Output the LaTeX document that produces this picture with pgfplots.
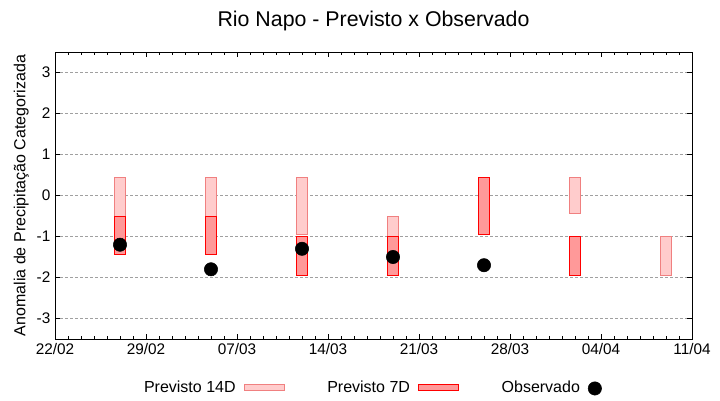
\documentclass[border=0pt]{standalone}
\usepackage{fontspec}
\setmainfont{Liberation Sans}
\usepackage{pgfplots}
\pgfplotsset{compat=1.18}

\definecolor{fill14}{RGB}{255,204,204}
\definecolor{edge14}{RGB}{240,128,128}
\definecolor{fill7}{RGB}{255,153,153}
\definecolor{edge7}{RGB}{255,0,0}
\definecolor{gridgray}{RGB}{160,160,160}

\tikzset{
  box14/.style={fill=fill14, draw=edge14, line width=0.75pt},
  box7/.style={fill=fill7, draw=edge7, line width=0.75pt},
}
\pgfplotsset{
  boxlegend/.style={legend image code/.code={\draw[##1] (0pt,-2.25pt) rectangle (30pt,2.25pt);}},
  dotlegend/.style={legend image code/.code={\fill[black] (22pt,-0.5pt) circle (5pt);}},
}

\begin{document}
\begin{tikzpicture}
\useasboundingbox (0,0) rectangle (540pt,300pt);
\begin{axis}[
  at={(41.25pt,45.75pt)}, anchor=south west,
  scale only axis, width=477.75pt, height=215.25pt,
  xmin=0, xmax=49, ymin=-3.5, ymax=3.5,
  xtick={0,7,...,49},
  xticklabels={22/02,29/02,07/03,14/03,21/03,28/03,04/04,11/04},
  minor x tick num=6,
  ytick={-3,...,3},
  tick align=inside,
  major tick length=4pt, minor tick length=2.5pt,
  every tick/.style={black, line width=0.75pt},
  axis line style={line width=0.75pt},
  ymajorgrids,
  major grid style={gridgray, line width=0.75pt, dash pattern=on 2.25pt off 1.5pt},
  /pgf/number format/assume math mode=true,
  tick label style={font=\fontsize{11.5}{13}\selectfont},
  ylabel={Anomalia de Precipitação Categorizada},
  ylabel style={font=\fontsize{12}{14}\selectfont, xshift=0pt, yshift=-1pt},
  title={Rio Napo - Previsto x Observado},
  title style={font=\fontsize{16}{19}\selectfont, yshift=6pt},
  legend columns=3,
  legend plot pos=right,
  legend style={draw=none, fill=none, at={(0.497,-0.170)}, anchor=center,
    font=\fontsize{12}{14}\selectfont,
    /tikz/every odd column/.append style={column sep=4pt},
    /tikz/every even column/.append style={column sep=30pt}},
]
% Previsto 14D (x = dias desde 22/02)
\addplot[box14, forget plot] coordinates {(4.55,-0.5) (5.45,-0.5) (5.45,0.45) (4.55,0.45)} --cycle;
\addplot[box14, forget plot] coordinates {(11.55,-0.5) (12.45,-0.5) (12.45,0.45) (11.55,0.45)} --cycle;
\addplot[box14, forget plot] coordinates {(18.55,-0.95) (19.45,-0.95) (19.45,0.45) (18.55,0.45)} --cycle;
\addplot[box14, forget plot] coordinates {(25.55,-1.0) (26.45,-1.0) (26.45,-0.5) (25.55,-0.5)} --cycle;
\addplot[box14, forget plot] coordinates {(39.55,-0.45) (40.45,-0.45) (40.45,0.45) (39.55,0.45)} --cycle;
\addplot[box14, forget plot] coordinates {(46.55,-1.95) (47.45,-1.95) (47.45,-1.0) (46.55,-1.0)} --cycle;
% Previsto 7D
\addplot[box7, forget plot] coordinates {(4.55,-1.45) (5.45,-1.45) (5.45,-0.5) (4.55,-0.5)} --cycle;
\addplot[box7, forget plot] coordinates {(11.55,-1.45) (12.45,-1.45) (12.45,-0.5) (11.55,-0.5)} --cycle;
\addplot[box7, forget plot] coordinates {(18.55,-1.95) (19.45,-1.95) (19.45,-1.0) (18.55,-1.0)} --cycle;
\addplot[box7, forget plot] coordinates {(25.55,-1.95) (26.45,-1.95) (26.45,-1.0) (25.55,-1.0)} --cycle;
\addplot[box7, forget plot] coordinates {(32.55,-0.95) (33.45,-0.95) (33.45,0.45) (32.55,0.45)} --cycle;
\addplot[box7, forget plot] coordinates {(39.55,-1.95) (40.45,-1.95) (40.45,-1.0) (39.55,-1.0)} --cycle;
% Observado
\addplot[only marks, mark=*, mark size=5pt, black, forget plot] coordinates {
(5,-1.2) (12,-1.8) (19,-1.3) (26,-1.5) (33,-1.7)
};
\addlegendimage{box14, boxlegend}
\addlegendentry{Previsto 14D}
\addlegendimage{box7, boxlegend}
\addlegendentry{Previsto 7D}
\addlegendimage{dotlegend}
\addlegendentry{Observado}
\end{axis}
\end{tikzpicture}
\end{document}
